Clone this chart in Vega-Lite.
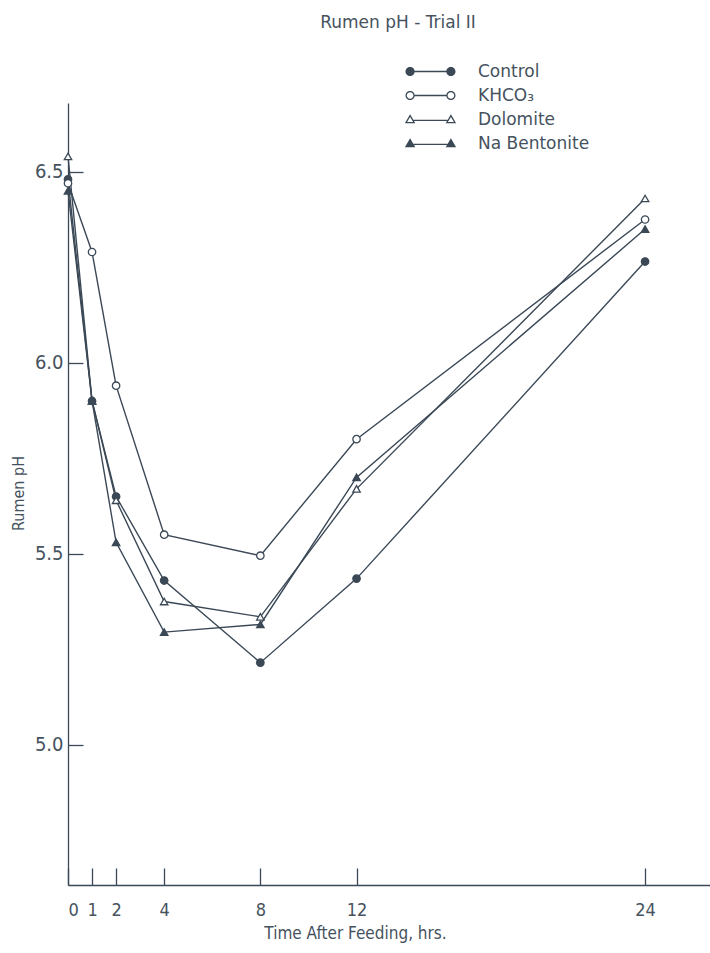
{
  "$schema": "https://vega.github.io/schema/vega-lite/v6.json",
  "width": 642,
  "height": 782,
  "autosize": {"type": "none"},
  "padding": {"left": 68, "top": 103, "right": 0, "bottom": 68},
  "background": "white",
  "title": {"text": "Rumen pH - Trial II", "anchor": "middle", "frame": "group", "dx": 9, "offset": 31, "font": "DejaVu Sans", "fontSize": 17, "fontWeight": "normal", "color": "#46525e"},
  "config": {"view": {"stroke": null}, "font": "DejaVu Sans Condensed"},
  "data": {"values": [
    {"series": "Control", "hour": 0, "ph": 6.48},
    {"series": "Control", "hour": 1, "ph": 5.90},
    {"series": "Control", "hour": 2, "ph": 5.65},
    {"series": "Control", "hour": 4, "ph": 5.43},
    {"series": "Control", "hour": 8, "ph": 5.215},
    {"series": "Control", "hour": 12, "ph": 5.435},
    {"series": "Control", "hour": 24, "ph": 6.265},
    {"series": "KHCO₃", "hour": 0, "ph": 6.47},
    {"series": "KHCO₃", "hour": 1, "ph": 6.29},
    {"series": "KHCO₃", "hour": 2, "ph": 5.94},
    {"series": "KHCO₃", "hour": 4, "ph": 5.55},
    {"series": "KHCO₃", "hour": 8, "ph": 5.495},
    {"series": "KHCO₃", "hour": 12, "ph": 5.80},
    {"series": "KHCO₃", "hour": 24, "ph": 6.375},
    {"series": "Dolomite", "hour": 0, "ph": 6.54},
    {"series": "Dolomite", "hour": 1, "ph": 5.90},
    {"series": "Dolomite", "hour": 2, "ph": 5.64},
    {"series": "Dolomite", "hour": 4, "ph": 5.375},
    {"series": "Dolomite", "hour": 8, "ph": 5.335},
    {"series": "Dolomite", "hour": 12, "ph": 5.67},
    {"series": "Dolomite", "hour": 24, "ph": 6.43},
    {"series": "Na Bentonite", "hour": 0, "ph": 6.45},
    {"series": "Na Bentonite", "hour": 1, "ph": 5.90},
    {"series": "Na Bentonite", "hour": 2, "ph": 5.53},
    {"series": "Na Bentonite", "hour": 4, "ph": 5.295},
    {"series": "Na Bentonite", "hour": 8, "ph": 5.315},
    {"series": "Na Bentonite", "hour": 12, "ph": 5.70},
    {"series": "Na Bentonite", "hour": 24, "ph": 6.35}
  ]},
  "encoding": {
    "x": {"field": "hour", "type": "quantitative",
      "scale": {"domain": [0, 26.7], "nice": false, "zero": false},
      "axis": {"values": [0, 1, 2, 4, 8, 12, 24], "format": "d", "grid": false,
        "tickSize": -17, "tickColor": "#3b4856", "tickWidth": 1.3,
        "domainColor": "#3b4856", "domainWidth": 1.3,
        "labelPadding": 33, "labelFontSize": 18, "labelColor": "#46525e", "labelFont": "DejaVu Sans Condensed",
        "title": "Time After Feeding, hrs.", "titleFontSize": 17, "titleFontWeight": "normal", "titleColor": "#46525e",
        "titleFont": "DejaVu Sans Condensed", "titleX": 287, "titleY": 40, "titleBaseline": "top", "titleAlign": "center"}},
    "y": {"field": "ph", "type": "quantitative",
      "scale": {"domain": [4.633, 6.68], "nice": false, "zero": false},
      "axis": {"values": [5.0, 5.5, 6.0, 6.5], "format": ".1f", "grid": false,
        "tickSize": -15, "tickColor": "#3b4856", "tickWidth": 1.3,
        "domainColor": "#3b4856", "domainWidth": 1.3,
        "labelPadding": 20, "labelFontSize": 20, "labelColor": "#46525e", "labelFont": "DejaVu Sans Condensed",
        "title": "Rumen pH", "titleFontSize": 16, "titleFontWeight": "normal", "titleColor": "#46525e",
        "titleFont": "DejaVu Sans Condensed", "titleX": -50, "titleY": 390, "titleAngle": -90, "titleBaseline": "middle", "titleAlign": "center"}}
  },
  "layer": [
    {"mark": {"type": "line", "color": "#3b4856", "strokeWidth": 1.4},
      "encoding": {"detail": {"field": "series"}}},
    {"mark": {"type": "point", "stroke": "#3b4856", "strokeWidth": 1.3, "opacity": 1, "size": 55},
      "encoding": {
        "shape": {"field": "series", "type": "nominal",
          "scale": {"domain": ["Control", "KHCO₃", "Dolomite", "Na Bentonite"], "range": ["circle", "circle", "triangle-up", "triangle-up"]},
          "legend": null},
        "fill": {"field": "series", "type": "nominal",
          "scale": {"domain": ["Control", "KHCO₃", "Dolomite", "Na Bentonite"], "range": ["#3b4856", "white", "white", "#3b4856"]},
          "legend": null}}},
    {"transform": [{"filter": "false"}],
      "mark": {"type": "point", "filled": true, "color": "#3b4856", "strokeWidth": 0, "opacity": 1, "size": 64},
      "encoding": {
        "shape": {"field": "series", "type": "nominal",
          "scale": {"domain": ["Control", "KHCO₃", "Dolomite", "Na Bentonite"],
            "range": [
              "M-6.25,0A1.15,1.15 0 1,0 -3.95,0A1.15,1.15 0 1,0 -6.25,0ZM-3.95,-0.16H3.95V0.16H-3.95ZM3.95,0A1.15,1.15 0 1,0 6.25,0A1.15,1.15 0 1,0 3.95,0Z",
              "M-6.25,0A1.15,1.15 0 1,0 -3.95,0A1.15,1.15 0 1,0 -6.25,0ZM-5.93,0A0.83,0.83 0 1,1 -4.27,0A0.83,0.83 0 1,1 -5.93,0ZM-3.95,-0.16H3.95V0.16H-3.95ZM3.95,0A1.15,1.15 0 1,0 6.25,0A1.15,1.15 0 1,0 3.95,0ZM4.27,0A0.83,0.83 0 1,1 5.93,0A0.83,0.83 0 1,1 4.27,0Z",
              "M-5.1,-1.3L-3.8,0.95L-6.4,0.95ZM-5.1,-0.65L-5.85,0.62L-4.35,0.62ZM-4.3,0.04H4.3V0.36H-4.3ZM5.1,-1.3L6.4,0.95L3.8,0.95ZM5.1,-0.65L4.35,0.62L5.85,0.62Z",
              "M-5.1,-1.3L-3.8,0.95L-6.4,0.95ZM-4.3,0.04H4.3V0.36H-4.3ZM5.1,-1.3L6.4,0.95L3.8,0.95Z"]},
          "legend": {"title": null, "orient": "none", "legendX": 354, "legendY": -40, "padding": 0,
            "labelFont": "DejaVu Sans", "labelFontSize": 17, "labelColor": "#46525e", "labelOffset": 39,
            "symbolSize": 64, "symbolFillColor": "#3b4856", "symbolStrokeWidth": 0, "rowPadding": 6}}}}
  ],
  "resolve": {"scale": {"shape": "independent", "fill": "independent"}}
}
